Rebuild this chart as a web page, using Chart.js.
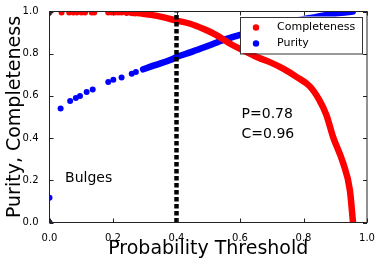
<!DOCTYPE html>
<html>
<head>
<meta charset="utf-8">
<script src="https://cdn.jsdelivr.net/npm/chart.js@4/dist/chart.umd.min.js"></script>
<style>
  html, body { margin: 0; padding: 0; background: #fff; }
</style>
</head>
<body>
<canvas id="chart" width="383" height="267"></canvas>
<script>
const xTicks = [0, 0.2, 0.4, 0.6, 0.8, 1.0];
const yTicks = [0, 0.2, 0.4, 0.6, 0.8, 1.0];

// completeness: isolated dots near the top, then the dense run
const complDotsX = [0.0, 0.038, 0.062, 0.075, 0.086, 0.101, 0.112, 0.133, 0.141, 0.185, 0.196, 0.206, 0.217, 0.227, 0.243, 0.259, 0.269, 0.28];
const complDotsY = [0.995, 0.995, 0.995, 0.995, 0.995, 0.995, 0.995, 0.995, 0.995, 0.995, 0.995, 0.995, 0.995, 0.995, 0.993, 0.992, 0.991, 0.99];
const complX = [0.29, 0.32, 0.36, 0.40, 0.443, 0.484, 0.527, 0.569, 0.61, 0.653, 0.694, 0.736, 0.779, 0.82, 0.85, 0.872, 0.893, 0.925, 0.946, 0.956];
const complY = [0.99, 0.984, 0.972, 0.957, 0.942, 0.918, 0.887, 0.847, 0.816, 0.784, 0.76, 0.729, 0.689, 0.645, 0.58, 0.51, 0.406, 0.281, 0.154, 0.0];

// purity
const purDotsX = [0.0, 0.0, 0.035, 0.065, 0.083, 0.096, 0.117, 0.136, 0.185, 0.201, 0.227, 0.259, 0.272];
const purDotsY = [0.0, 0.117, 0.54, 0.576, 0.59, 0.6, 0.618, 0.63, 0.666, 0.677, 0.687, 0.705, 0.713];
const purX = [0.295, 0.33, 0.38, 0.40, 0.443, 0.50, 0.55, 0.595, 0.65, 0.70, 0.75, 0.80, 0.87, 0.92, 0.955];
const purY = [0.726, 0.745, 0.77, 0.784, 0.806, 0.838, 0.866, 0.887, 0.91, 0.93, 0.948, 0.963, 0.983, 0.994, 1.0];

const thresholdX = [0.4, 0.4];
const thresholdY = [0, 1];

const notes = [
  { text: 'P=0.78', x: 0.605, y: 0.493 },
  { text: 'C=0.96', x: 0.605, y: 0.40 },
  { text: 'Bulges', x: 0.049, y: 0.193 }
];

const FONT = "'DejaVu Sans', sans-serif";
const pts = (xs, ys) => xs.map((v, i) => ({ x: v, y: ys[i] }));

const framePlugin = {
  id: 'frame',
  afterDatasetsDraw(chart) {
    const { ctx, chartArea: a, scales: { x, y } } = chart;
    ctx.save();
    ctx.strokeStyle = '#222';
    ctx.lineWidth = 1;
    ctx.beginPath();
    xTicks.forEach(v => {
      const px = Math.round(x.getPixelForValue(v)) + 0.5;
      ctx.moveTo(px, a.bottom); ctx.lineTo(px, a.bottom - 4);
      ctx.moveTo(px, a.top); ctx.lineTo(px, a.top + 4);
    });
    yTicks.forEach(v => {
      const py = Math.round(y.getPixelForValue(v)) + 0.5;
      ctx.moveTo(a.left, py); ctx.lineTo(a.left + 4, py);
      ctx.moveTo(a.right, py); ctx.lineTo(a.right - 4, py);
    });
    ctx.stroke();
    ctx.strokeRect(a.left, a.top, a.width, a.height);

    // text notes
    ctx.fillStyle = '#000';
    ctx.font = '14px ' + FONT;
    ctx.textBaseline = 'alphabetic';
    ctx.textAlign = 'left';
    notes.forEach(n => ctx.fillText(n.text, x.getPixelForValue(n.x), y.getPixelForValue(n.y)));

    // legend
    const items = chart.data.datasets.filter(d => d.inLegend);
    const bw = 122, bh = 36.5;
    const bx = a.right - 5 - bw, by = a.top + 5;
    ctx.fillStyle = '#fff';
    ctx.fillRect(bx, by, bw, bh);
    ctx.strokeStyle = '#333';
    ctx.strokeRect(Math.round(bx) + 0.5, Math.round(by) + 0.5, bw, bh);
    ctx.font = '11px ' + FONT;
    ctx.textBaseline = 'middle';
    items.forEach((d, i) => {
      const cy = by + 11 + i * 16;
      ctx.fillStyle = d.backgroundColor;
      ctx.beginPath();
      ctx.arc(bx + 16, cy, 3.2, 0, Math.PI * 2);
      ctx.fill();
      ctx.fillStyle = '#000';
      ctx.fillText(d.label, bx + 37, cy);
    });
    ctx.restore();
  }
};

const ctx = document.getElementById('chart').getContext('2d');
new Chart(ctx, {
  type: 'scatter',
  data: {
    datasets: [
      {
        data: pts(thresholdX, thresholdY), showLine: true,
        borderColor: '#000', backgroundColor: '#000', borderWidth: 4.5,
        borderDash: [4.5, 2.5], pointRadius: 0, clip: 0
      },
      {
        label: 'Completeness', inLegend: true, data: pts(complDotsX, complDotsY),
        backgroundColor: '#ff0000', borderColor: '#ff0000', pointRadius: 3, borderWidth: 0, clip: 0
      },
      {
        data: pts(complX, complY), showLine: true, cubicInterpolationMode: 'monotone',
        borderColor: '#ff0000', backgroundColor: '#ff0000', borderWidth: 6.5,
        borderCapStyle: 'round', borderJoinStyle: 'round', pointRadius: 0, clip: 0
      },
      {
        label: 'Purity', inLegend: true, data: pts(purDotsX, purDotsY),
        backgroundColor: '#0000ff', borderColor: '#0000ff', pointRadius: 3, borderWidth: 0, clip: 0
      },
      {
        data: pts(purX, purY), showLine: true, cubicInterpolationMode: 'monotone',
        borderColor: '#0000ff', backgroundColor: '#0000ff', borderWidth: 6.5,
        borderCapStyle: 'round', borderJoinStyle: 'round', pointRadius: 0, clip: 0
      }
    ]
  },
  options: {
    responsive: false, animation: false, devicePixelRatio: 1,
    layout: { padding: { top: 11.5, right: 16, left: 0, bottom: 0 } },
    plugins: { legend: { display: false }, tooltip: { enabled: false } },
    scales: {
      x: {
        type: 'linear', min: 0, max: 1,
        afterBuildTicks: s => { s.ticks = xTicks.map(v => ({ value: v })); },
        afterFit: s => { s.height = 44.5; },
        grid: { display: false }, border: { display: false },
        ticks: { color: '#000', padding: 2, font: { family: FONT, size: 10 }, callback: v => v.toFixed(1) },
        title: { display: true, text: 'Probability Threshold', color: '#000',
                 font: { family: FONT, size: 19 }, padding: { top: 0, bottom: 6.5 } }
      },
      y: {
        type: 'linear', min: 0, max: 1,
        afterBuildTicks: s => { s.ticks = yTicks.map(v => ({ value: v })); },
        afterFit: s => { s.width = 49.5; },
        grid: { display: false }, border: { display: false },
        ticks: { color: '#000', padding: 3, font: { family: FONT, size: 10 }, callback: v => v.toFixed(1) },
        title: { display: true, text: 'Purity, Completeness', color: '#000',
                 font: { family: FONT, size: 19 }, padding: { top: 4, bottom: 0 } }
      }
    }
  },
  plugins: [framePlugin]
});
</script>
</body>
</html>
